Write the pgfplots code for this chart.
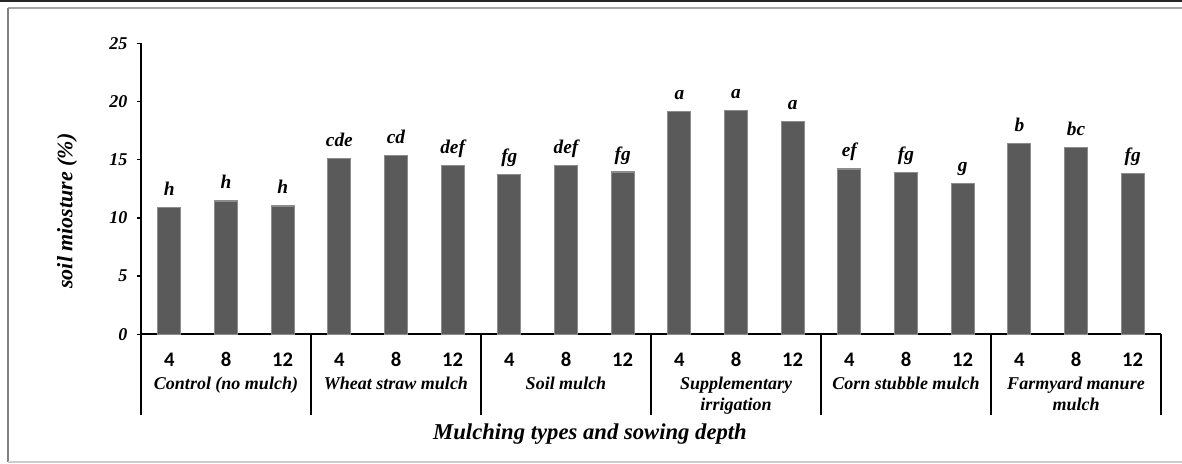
\documentclass[border=0pt]{standalone}
\usepackage{pgfplots}
\usepackage{pgfplotstable}
\pgfplotsset{compat=1.18}
\usepackage{fontspec}
\setmainfont{Liberation Serif}
\newfontfamily\calfont{Carlito}
\definecolor{barfill}{HTML}{5A5A5A}
\definecolor{baredge}{HTML}{8C8C8C}

\pgfplotstableread{
x y lab
0 10.91 h
1 11.45 h
2 11.02 h
3 15.09 cde
4 15.33 cd
5 14.52 def
6 13.71 fg
7 14.49 def
8 13.94 fg
9 19.10 a
10 19.21 a
11 18.26 a
12 14.20 ef
13 13.86 fg
14 12.94 g
15 16.41 b
16 16.03 bc
17 13.80 fg
}\moisture

\begin{document}
\begin{tikzpicture}[x=1pt,y=1pt]
\useasboundingbox (0,0) rectangle (886.5,348);
\fill[white] (0,0) rectangle (886.5,348);
\draw[black!85, line width=1.5pt] (0,347.25) -- (886.5,347.25);
\draw[gray!70, line width=1.1pt] (6,342) -- (886.5,342);
\draw[gray, line width=1.5pt] (6,342) -- (6,1.5);
\draw[gray!40, line width=1.2pt] (6,1.5) -- (886.5,1.5);

\begin{axis}[
  at={(105.75pt,97.3pt)}, anchor=south west,
  scale only axis, width=765pt, height=218.25pt,
  xmin=-0.5, xmax=17.5, ymin=0, ymax=25,
  ybar, bar width=17.25pt,
  axis x line=bottom, axis y line=left,
  axis line style={-, black, line width=1.5pt},
  ytick={0,5,10,15,20,25},
  yticklabels={0,5,10,15,20,25},
  xtick={0,1,...,17},
  xticklabels={4,8,12,4,8,12,4,8,12,4,8,12,4,8,12,4,8,12},
  tick align=outside,
  major tick length=3pt,
  ytick style={black, line width=1pt},
  xtick style={draw=none},
  yticklabel style={font=\bfseries\itshape\fontsize{13.5}{15}\selectfont, anchor=east, inner sep=0pt, xshift=-7pt},
  xticklabel style={font=\calfont\bfseries\fontsize{15.5}{17}\selectfont, anchor=base, inner sep=0pt, yshift=-21.3pt},
  clip=false,
  nodes near coords,
  point meta=explicit symbolic,
  every node near coord/.append style={font=\bfseries\itshape\fontsize{14.5}{16}\selectfont, anchor=base, inner sep=0pt, yshift=9pt},
]
\addplot[fill=barfill, draw=baredge, line width=0.8pt] table[x=x, y=y, meta=lab] {\moisture};
\pgfplotsinvokeforeach{-0.5,2.5,5.5,8.5,11.5,14.5,17.5}{
  \draw[black, line width=1.5pt] (axis cs:#1,0) -- ++(0pt,-60.75pt);
}
\begin{scope}[every node/.style={font=\bfseries\itshape\fontsize{13.5}{15}\selectfont, anchor=base, inner sep=0pt}]
\node at ([yshift=-41.8pt]axis cs:1,0) {Control (no mulch)};
\node at ([yshift=-41.8pt]axis cs:4,0) {Wheat straw mulch};
\node at ([yshift=-41.8pt]axis cs:7,0) {Soil mulch};
\node at ([yshift=-41.8pt]axis cs:10,0) {Supplementary};
\node at ([yshift=-56.8pt]axis cs:10,0) {irrigation};
\node at ([yshift=-41.8pt]axis cs:13,0) {Corn stubble mulch};
\node at ([yshift=-41.8pt]axis cs:16,0) {Farmyard manure};
\node at ([yshift=-56.8pt]axis cs:16,0) {mulch};
\end{scope}
\end{axis}

\node[rotate=90, font=\bfseries\itshape\fontsize{16.5}{18}\selectfont] at (50.25,189.75) {soil miosture (\%)};
\node[anchor=base, font=\bfseries\itshape\fontsize{17}{19}\selectfont] at (442.5,18) {Mulching types and sowing depth};
\end{tikzpicture}
\end{document}
